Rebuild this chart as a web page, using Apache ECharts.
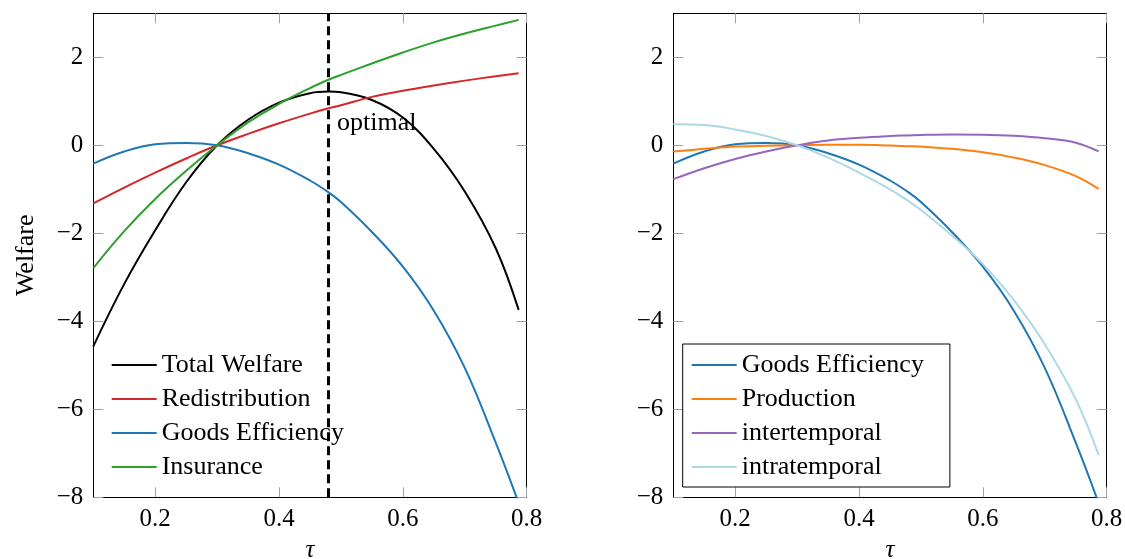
<!DOCTYPE html>
<html><head><meta charset="utf-8">
<script src="https://cdn.jsdelivr.net/npm/echarts@6/dist/echarts.min.js"></script>
<style>html,body{margin:0;padding:0;background:#fff}#c{width:1125px;height:559px}</style>
</head><body><div id="c"></div>
<script>
// ---- data ----
const tau = [0.1, 0.15, 0.2, 0.25, 0.3, 0.35, 0.4, 0.45, 0.48, 0.5, 0.55, 0.6, 0.65, 0.7, 0.75, 0.787];
const totalWelfare   = [-4.57, -3.15, -1.93, -0.84, 0, 0.58, 0.97, 1.185, 1.22, 1.205, 1.03, 0.63, -0.08, -1.05, -2.34, -3.74];
const redistribution = [-1.32, -0.96, -0.62, -0.30, 0, 0.26, 0.50, 0.72, 0.84, 0.91, 1.10, 1.24, 1.36, 1.47, 1.57, 1.64];
const goodsEfficiency= [-0.415, -0.14, 0.025, 0.055, 0, -0.18, -0.44, -0.80, -1.07, -1.29, -1.97, -2.76, -3.76, -5.06, -6.76, -8.13];
const insurance      = [-2.79, -1.95, -1.22, -0.58, 0, 0.52, 0.94, 1.30, 1.49, 1.60, 1.86, 2.11, 2.34, 2.54, 2.72, 2.85];
const production     = [-0.14, -0.08, -0.03, -0.01, 0, 0.01, 0.01, -0.005, -0.02, -0.03, -0.08, -0.16, -0.28, -0.45, -0.70, -0.99];
const intertemporal  = [-0.77, -0.52, -0.31, -0.14, 0, 0.11, 0.17, 0.21, 0.225, 0.235, 0.245, 0.24, 0.215, 0.16, 0.06, -0.14];
const intratemporal  = [0.48, 0.46, 0.36, 0.21, 0, -0.28, -0.62, -1.00, -1.27, -1.47, -2.05, -2.70, -3.52, -4.52, -5.77, -7.04];
const xTicks = [0.2, 0.4, 0.6, 0.8];
const yTicks = [-8, -6, -4, -2, 0, 2];
const xRange = [0.1, 0.8];
const yRange = [-8, 3];
const optimalTau = 0.48;
const optimalLabelY = 0.5;
const leftNames  = ['Total Welfare', 'Redistribution', 'Goods Efficiency', 'Insurance'];
const rightNames = ['Goods Efficiency', 'Production', 'intertemporal', 'intratemporal'];

// ---- styling ----
const FONT = '"Liberation Serif", "DejaVu Serif", serif';
const FS = 25;
const FS_TEXT = 26;
const TICK = '#a0a0a0';
const pair = arr => tau.map((t, i) => [t, arr[i]]);
const fmtY = v => (v < 0 ? '\u2212' + Math.abs(v) : String(v));

function xAxis(gi, top) {
  return {
    type: 'value', gridIndex: gi, min: xRange[0], max: xRange[1],
    position: top ? 'top' : 'bottom',
    axisLine: { show: true, onZero: false, lineStyle: { color: '#000', width: 1 } },
    axisTick: { show: true, inside: true, length: 10, customValues: xTicks, lineStyle: { color: TICK, width: 1 } },
    axisLabel: { show: !top, customValues: xTicks, margin: 10, color: '#000', fontSize: FS, fontFamily: FONT,
                 formatter: v => v.toFixed(1) },
    splitLine: { show: false },
    name: top ? '' : 'τ', nameLocation: 'middle', nameGap: 41,
    nameTextStyle: { color: '#000', fontSize: FS, fontFamily: FONT, fontStyle: 'italic' }
  };
}
function yAxis(gi, right, name) {
  return {
    type: 'value', gridIndex: gi, min: yRange[0], max: yRange[1],
    position: right ? 'right' : 'left',
    axisLine: { show: true, onZero: false, lineStyle: { color: '#000', width: 1 } },
    axisTick: { show: true, inside: true, length: 10, customValues: yTicks, lineStyle: { color: TICK, width: 1 } },
    axisLabel: { show: !right, customValues: yTicks, margin: 10, color: '#000', fontSize: FS, fontFamily: FONT,
                 formatter: fmtY },
    splitLine: { show: false },
    name: name || '', nameLocation: 'middle', nameGap: 54,
    nameTextStyle: { color: '#000', fontSize: FS_TEXT, fontFamily: FONT }
  };
}
function line(name, arr, color, gi) {
  return {
    type: 'line', name, data: pair(arr), xAxisIndex: gi, yAxisIndex: gi,
    symbol: 'none', smooth: 0.4, lineStyle: { color, width: 2 }, itemStyle: { color },
    z: 3
  };
}
const legendText = { color: '#000', fontSize: FS_TEXT, fontFamily: FONT, lineHeight: 26 };

const chart = echarts.init(document.getElementById('c'), null, { renderer: 'canvas' });
chart.setOption({
  animation: false,
  backgroundColor: '#fff',
  grid: [
    { left: 93.3, right: 598.3, top: 13.3, bottom: 61.7, containLabel: false, outerBoundsMode: 'none' },
    { left: 673.3, right: 18.3, top: 13.3, bottom: 61.7, containLabel: false, outerBoundsMode: 'none' }
  ],
  xAxis: [xAxis(0, false), xAxis(1, false), xAxis(0, true), xAxis(1, true)],
  yAxis: [yAxis(0, false, 'Welfare'), yAxis(1, false), yAxis(0, true), yAxis(1, true)],
  legend: [
    { data: leftNames, orient: 'vertical', left: 111.7, top: 352, padding: 0, itemGap: 8,
      icon: 'rect', itemWidth: 45, itemHeight: 2, selectedMode: false, textStyle: legendText },
    { data: rightNames, orient: 'vertical', left: 682.7, top: 344, padding: [8, 26, 7, 9], itemGap: 8,
      icon: 'rect', itemWidth: 45, itemHeight: 2, selectedMode: false,
      borderColor: '#000', borderWidth: 1, textStyle: legendText }
  ],
  series: [
    line('Total Welfare', totalWelfare, '#000000', 0),
    line('Redistribution', redistribution, '#d62728', 0),
    line('Goods Efficiency', goodsEfficiency, '#1f77b4', 0),
    line('Insurance', insurance, '#2ca02c', 0),
    {
      type: 'scatter', name: 'optimal', xAxisIndex: 0, yAxisIndex: 0,
      data: [[optimalTau, optimalLabelY]], symbolSize: 1,
      itemStyle: { color: 'rgba(0,0,0,0)', opacity: 1 },
      label: { show: true, position: 'right', distance: 8, formatter: 'optimal', color: '#000',
               fontSize: FS_TEXT, fontFamily: FONT },
      markLine: { silent: true, symbol: ['none', 'none'], label: { show: false },
        lineStyle: { type: [9, 5], color: '#000', width: 3, opacity: 1 }, data: [{ xAxis: optimalTau }] },
      z: 4
    },
    line('Goods Efficiency', goodsEfficiency, '#1f77b4', 1),
    line('Production', production, '#ff7f0e', 1),
    line('intertemporal', intertemporal, '#9467bd', 1),
    line('intratemporal', intratemporal, '#add8e6', 1)
  ]
});
</script>
</body></html>
